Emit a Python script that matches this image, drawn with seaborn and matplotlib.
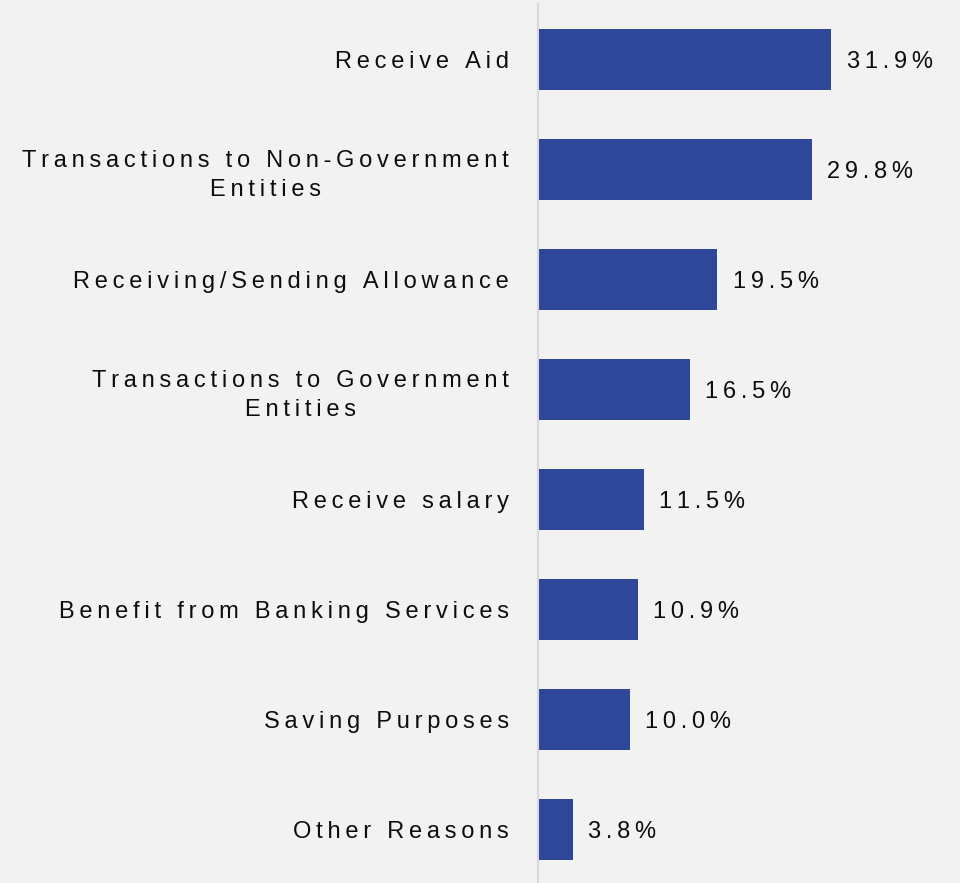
import matplotlib
matplotlib.use("Agg")
import matplotlib.pyplot as plt
import seaborn as sns
import pandas as pd

categories = [
    "Receive Aid",
    "Transactions to Non-Government\nEntities",
    "Receiving/Sending Allowance",
    "Transactions to Government\nEntities",
    "Receive salary",
    "Benefit from Banking Services",
    "Saving Purposes",
    "Other Reasons",
]
shares = [31.9, 29.8, 19.5, 16.5, 11.5, 10.9, 10.0, 3.8]

BAR_COLOR = "#2F4799"
BG_COLOR = "#F2F2F2"
TEXT_COLOR = "#0D0D0D"
THIN = "\u2009"


def spaced(text):
    """Open up the tracking of a label by putting thin spaces between letters."""
    return "\n".join(THIN.join(line) for line in text.split("\n"))


sns.set_theme(style="white")
plt.rcParams["font.family"] = ["Liberation Sans", "DejaVu Sans"]

df = pd.DataFrame({"reason": categories, "share": shares})

fig = plt.figure(figsize=(9.6, 8.83), dpi=100, facecolor=BG_COLOR)
ax = fig.add_axes([538 / 960, 1 - 884.5 / 883, 1 - 538 / 960, 880 / 883])
ax.set_facecolor(BG_COLOR)

sns.barplot(data=df, y="reason", x="share", orient="h", color=BAR_COLOR,
            saturation=1, width=0.55, linewidth=0, ax=ax)

ax.set_xlim(0, 45.9)
ax.set_ylim(7.5, -0.5)
ax.set_xlabel("")
ax.set_ylabel("")
ax.set_xticks([])

ax.set_yticks(range(len(categories)))
ax.set_yticklabels([spaced(c) for c in categories], fontsize=17,
                   color=TEXT_COLOR, multialignment="center", linespacing=1.4)
ax.tick_params(axis="y", length=0, pad=21)

for side in ["top", "right", "bottom"]:
    ax.spines[side].set_visible(False)
ax.spines["left"].set_color("#D9D9D9")
ax.spines["left"].set_linewidth(1.5)

for i, v in enumerate(shares):
    ax.annotate(spaced(f"{v:.1f}%"), xy=(v, i), xytext=(11, -2),
                textcoords="offset points", ha="left", va="center",
                fontsize=17, color=TEXT_COLOR)

fig.savefig("out.png", dpi=100, facecolor=BG_COLOR)
